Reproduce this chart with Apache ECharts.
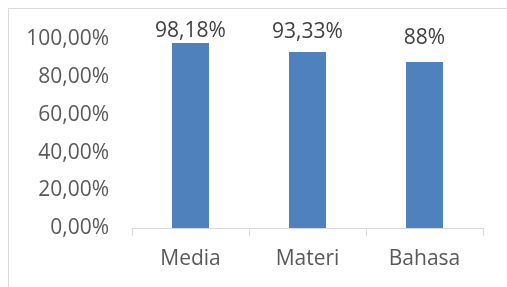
<!DOCTYPE html>
<html>
<head>
<meta charset="utf-8">
<script src="https://cdn.jsdelivr.net/npm/echarts@6/dist/echarts.min.js"></script>
<style>
  body { margin: 0; background: #fff; }
  #chart { width: 507px; height: 287px; }
</style>
</head>
<body>
<div id="chart"></div>
<script>
var categories = ['Media', 'Materi', 'Bahasa'];
var values = [98.18, 93.33, 88];
var yTicks = [0, 20, 40, 60, 80, 100];

// labels were dragged by hand in the original, so each sits a bit differently
var labelGaps = [1, 10, 14];

function fmtPct(v) {
    // Excel style: comma as decimal separator
    if (Number.isInteger(v)) return v + '%';
    return v.toFixed(2).replace('.', ',') + '%';
}

var seriesData = values.map(function (v, i) {
    return { value: v, label: { distance: labelGaps[i] } };
});

var myChart = echarts.init(document.getElementById('chart'));
var option = {
    animation: false,
    textStyle: { fontFamily: 'Open Sans' },
    graphic: [{
        type: 'rect',
        shape: { x: 8.5, y: 8.5, width: 600, height: 400 },
        style: { fill: 'none', stroke: '#d9d9d9', lineWidth: 1 },
        silent: true
    }],
    grid: {
        left: 132,
        right: 24,
        top: 39.5,
        bottom: 59
    },
    xAxis: {
        type: 'category',
        data: categories,
        axisLine: { lineStyle: { color: '#d9d9d9', width: 1 } },
        axisTick: { show: true, length: 8, lineStyle: { color: '#d9d9d9' } },
        axisLabel: { color: '#595959', fontSize: 21, margin: 21 }
    },
    yAxis: {
        type: 'value',
        min: yTicks[0],
        max: yTicks[yTicks.length - 1],
        interval: 20,
        axisLine: { show: false },
        axisTick: { show: false },
        splitLine: { show: false },
        axisLabel: {
            color: '#595959',
            fontSize: 21,
            margin: 23,
            formatter: function (v) { return v.toFixed(2).replace('.', ',') + '%'; }
        }
    },
    series: [{
        type: 'bar',
        data: seriesData,
        barWidth: 37,
        itemStyle: { color: '#4f81bd' },
        label: {
            show: true,
            position: 'top',
            color: '#404040',
            fontSize: 21,
            formatter: function (p) { return fmtPct(p.value); }
        }
    }]
};
myChart.setOption(option);
</script>
</body>
</html>
